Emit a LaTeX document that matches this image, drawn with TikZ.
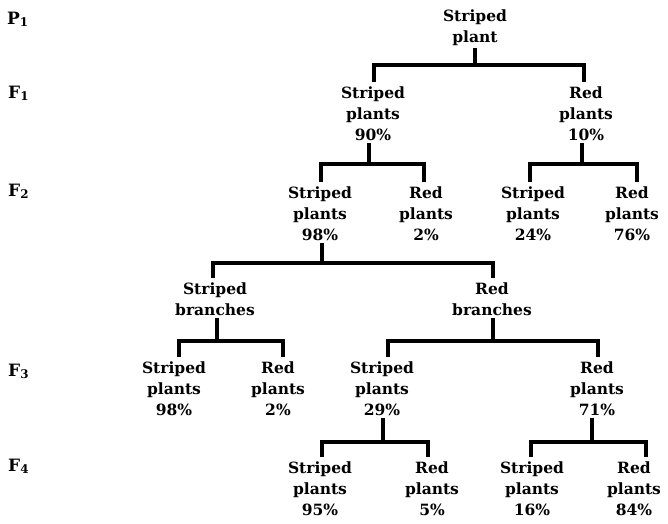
\documentclass[tikz,border=0pt]{standalone}
\usepackage{fontspec}
\setmainfont{DejaVu Serif}
\begin{document}
\begin{tikzpicture}[x=1pt,y=-1pt,
  lab/.style={anchor=north,inner sep=0pt,align=center,font=\fontsize{15.5}{21}\selectfont\bfseries},
  gen/.style={anchor=base west,inner sep=0pt,font=\fontsize{17}{18}\selectfont\bfseries},
  link/.style={line width=3.2pt,shorten <=5pt,shorten >=5pt},
  stemline/.style={line width=3.2pt,shorten <=2pt}]
\useasboundingbox (0,0) rectangle (668,523);
% generation labels
\node[gen] (gP1) at (7,24) {P\textsubscript{1}};
\node[gen] (gF1) at (8,98) {F\textsubscript{1}};
\node[gen] (gF2) at (8,196) {F\textsubscript{2}};
\node[gen] (gF3) at (8,376) {F\textsubscript{3}};
\node[gen] (gF4) at (8,471) {F\textsubscript{4}};
% nodes
\node[lab] (root) at (475,10) {Striped\\plant};
\node[lab] (a1) at (373,87) {Striped\\plants\\90\%};
\node[lab] (b1) at (586,87) {Red\\plants\\10\%};
\node[lab] (a2) at (320,187) {Striped\\plants\\98\%};
\node[lab] (b2) at (426,187) {Red\\plants\\2\%};
\node[lab] (c2) at (533,187) {Striped\\plants\\24\%};
\node[lab] (d2) at (632,187) {Red\\plants\\76\%};
\node[lab] (sb) at (215,283) {Striped\\branches};
\node[lab] (rb) at (492,283) {Red\\branches};
\node[lab] (a3) at (174,362) {Striped\\plants\\98\%};
\node[lab] (b3) at (278,362) {Red\\plants\\2\%};
\node[lab] (c3) at (382,362) {Striped\\plants\\29\%};
\node[lab] (d3) at (597,362) {Red\\plants\\71\%};
\node[lab] (a4) at (320,462) {Striped\\plants\\95\%};
\node[lab] (b4) at (432,462) {Red\\plants\\5\%};
\node[lab] (c4) at (532,462) {Striped\\plants\\16\%};
\node[lab] (d4) at (634,462) {Red\\plants\\84\%};
% bar junctions
\coordinate (j0) at (475,65);
\coordinate (j1) at (369,164);
\coordinate (j2) at (582,164);
\coordinate (j3) at (322,263);
\coordinate (j4) at (217,341);
\coordinate (j5) at (493,341);
\coordinate (j6) at (383,442);
\coordinate (j7) at (592,442);
% stems
\draw[stemline] (j0 |- root.south) -- (j0);
\draw[stemline] (j1 |- a1.south) -- (j1);
\draw[stemline] (j2 |- b1.south) -- (j2);
\draw[stemline] (j3 |- a2.south) -- (j3);
\draw[stemline] (j4 |- sb.south) -- (j4);
\draw[stemline] (j5 |- rb.south) -- (j5);
\draw[stemline] (j6 |- c3.south) -- (j6);
\draw[stemline] (j7 |- d3.south) -- (j7);
% bars and drops
\draw[link] ([xshift=1pt]a1.north) |- (j0) -| ([xshift=-2pt]b1.north);
\draw[link] ([xshift=1pt]a2.north) |- (j1) -| ([xshift=-2pt]b2.north);
\draw[link] ([xshift=-3pt]c2.north) |- (j2) -| ([xshift=5pt]d2.north);
\draw[link] ([xshift=-2pt]sb.north) |- (j3) -| ([xshift=1pt]rb.north);
\draw[link] ([xshift=5pt]a3.north) |- (j4) -| ([xshift=5pt]b3.north);
\draw[link] ([xshift=6pt]c3.north) |- (j5) -| ([xshift=1pt]d3.north);
\draw[link] ([xshift=2pt]a4.north) |- (j6) -| ([xshift=-4pt]b4.north);
\draw[link] ([xshift=-1pt]c4.north) |- (j7) -| ([xshift=12pt]d4.north);
\end{tikzpicture}
\end{document}
